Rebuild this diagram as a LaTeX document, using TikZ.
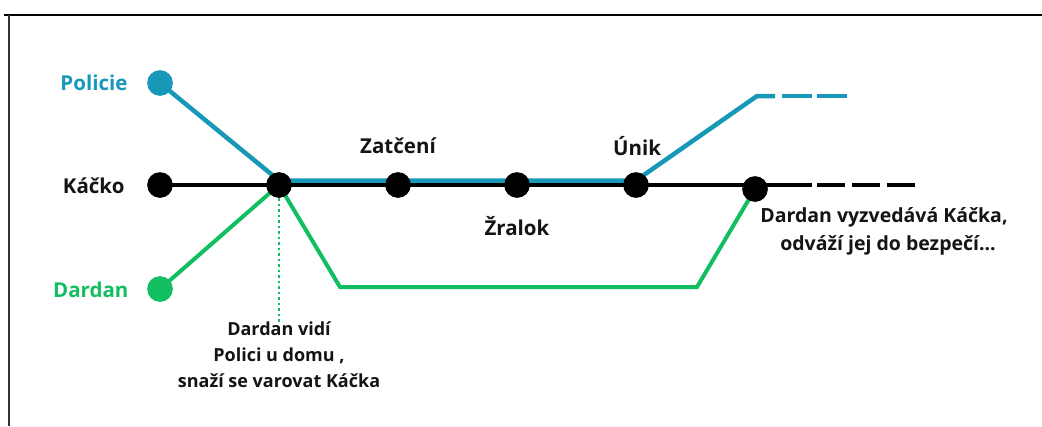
\documentclass[tikz,border=0pt]{standalone}
\usepackage{fontspec}
\setmainfont{Open Sans}
\definecolor{teal1}{RGB}{23,152,183}
\definecolor{green1}{RGB}{18,191,96}
\definecolor{ink}{RGB}{20,20,20}
\begin{document}
\begin{tikzpicture}[x=1pt,y=-1pt,
  dot/.style={circle,fill=#1,inner sep=0pt,minimum size=25pt},
  line/.style={line width=4pt,#1},
  lbl/.style={font=\fontsize{20.5}{24}\selectfont\bfseries,text=ink},
  desc/.style={font=\fontsize{18}{26}\selectfont\bfseries,text=ink,align=center}]
\useasboundingbox (0,0) rectangle (1042,426);
% frame
\draw[line width=2.2pt,black] (4,15) -- (1042,15);
\draw[line width=1.6pt,black!80] (9,15) -- (9,426);
% coordinates
\coordinate (kend) at (812,185);
\coordinate (kdash1) at (817,185);
\coordinate (kdash2) at (916,185);
\coordinate (tcorner) at (757,96);
\coordinate (tsolid) at (775,96);
\coordinate (tdash1) at (782,96);
\coordinate (tdash2) at (847,96);
\coordinate (g1) at (340,287);
\coordinate (g2) at (697,287);
\coordinate (dottop) at (279,198);
\coordinate (dotbot) at (279,322);
% dots (named)
\node[dot=teal1] (pol) at (160,83) {};
\node[dot=black] (kac) at (160,185) {};
\node[dot=green1] (dar) at (160,289) {};
\node[dot=black] (j) at (279,185) {};
\node[dot=black] (zat) at (398,185) {};
\node[dot=black] (zra) at (517,185) {};
\node[dot=black] (uni) at (636,185) {};
\node[dot=black] (vyz) at (755,189) {};
% lines
\draw[line=teal1,line width=4.5pt] (pol.center) -- ([yshift=4.5pt]j.center) -- ([yshift=4.5pt]uni.center) -- (tcorner) -- (tsolid);
\draw[line=teal1,dash pattern=on 30pt off 5pt] (tdash1) -- (tdash2);
\draw[line=black] (kac.center) -- (kend);
\draw[line=black,dash pattern=on 28pt off 7pt] (kdash1) -- (kdash2);
\draw[line=green1] (dar.center) -- (j.center);
\draw[line=green1,line join=miter] (j.center) -- (g1) -- (g2) -- (vyz.center);
\draw[line width=2.5pt,green1,dash pattern=on 2.5pt off 3pt] (dottop) -- (dotbot);
% redraw dots on top
\foreach \c/\p in {teal1/{(160,83)},black/{(160,185)},green1/{(160,289)},black/{(279,185)},black/{(398,185)},black/{(517,185)},black/{(636,185)},black/{(755,189)}}
  \fill[\c] \p circle (12.8pt);
% labels
\node[lbl,text=teal1,anchor=east] (lpol) at (131,83) {Policie};
\node[lbl,anchor=east] (lkac) at (128,186) {Káčko};
\node[lbl,text=green1,anchor=east] (ldar) at (132,290) {Dardan};
\node[lbl] (lzat) at (398,146) {Zatčení};
\node[lbl] (lzra) at (517,226) {Žralok};
\node[lbl] (luni) at (637,146) {Únik};
\node[desc,anchor=north] (dvid) at (279,318) {Dardan vidí\\Polici u domu ,\\snaží se varovat Káčka};
\node[desc,anchor=north,font=\fontsize{19.5}{28}\selectfont\bfseries] (dvyz) at (884,204) {Dardan vyzvedává Káčka,\\\hspace*{8pt}odváží jej do bezpečí...};
\end{tikzpicture}
\end{document}
